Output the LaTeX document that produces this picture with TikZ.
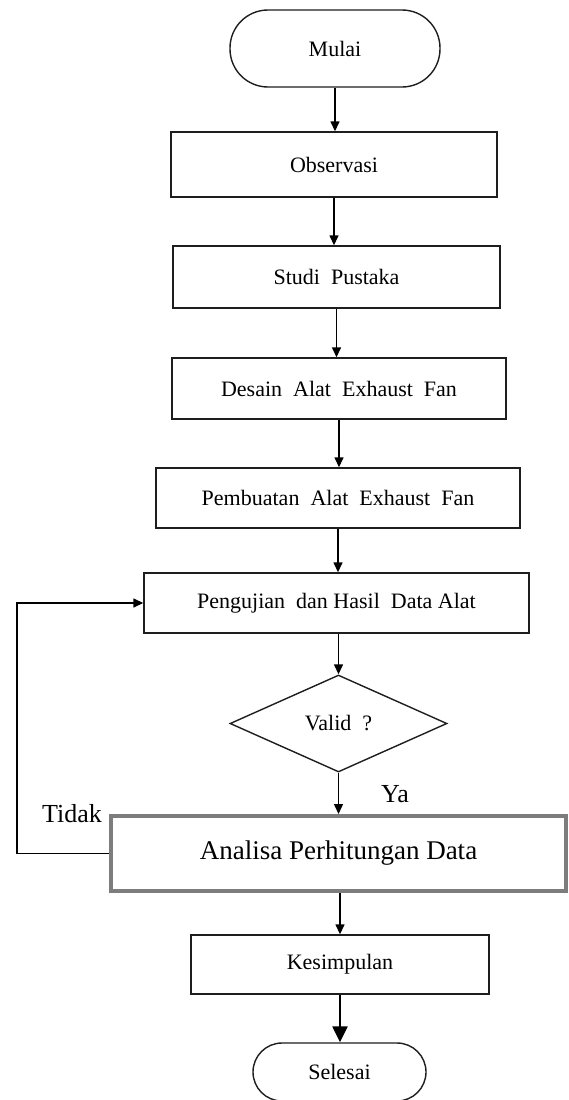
\documentclass[tikz,border=0pt]{standalone}
\usepackage{fontspec}
\setmainfont{Liberation Serif}
\usetikzlibrary{arrows.meta,shapes.geometric}
\definecolor{anagray}{RGB}{125,125,125}
\definecolor{linecol}{RGB}{30,30,30}
\tikzset{
  base/.style={draw=linecol,line width=1.4pt,align=center,inner sep=0pt,
    font=\fontsize{22}{26}\selectfont},
  proc/.style={base,rectangle},
  term/.style={base,rectangle,rounded corners=#1},
  decis/.style={base,diamond,aspect=2.24},
  anabox/.style={draw=anagray,line width=4pt,rectangle,inner sep=0pt,
    font=\fontsize{27}{31}\selectfont},
  arr/.style={draw=black,line width=1.4pt,-{Triangle[length=10pt,width=9pt]}},
  bigarr/.style={draw=black,line width=2.4pt,-{Triangle[length=16pt,width=15pt]}},
  lbl/.style={inner sep=0pt,font=\fontsize{26}{30}\selectfont}
}
\begin{document}
\begin{tikzpicture}[x=1pt,y=-1pt]
\fill[white] (0,0) rectangle (568,1100);
\useasboundingbox (0,0) rectangle (568,1100);

\node[term=38pt,minimum width=210pt,minimum height=77pt] (mulai) at (335,48.5) {Mulai};
\node[proc,minimum width=326pt,minimum height=65pt] (obs) at (334,164.5) {Observasi};
\node[proc,minimum width=327pt,minimum height=62pt] (studi) at (336.5,277) {Studi~ Pustaka};
\node[proc,minimum width=334pt,minimum height=61pt] (desain) at (339,388.5) {Desain~ Alat~ Exhaust~ Fan};
\node[proc,minimum width=364pt,minimum height=60pt] (pemb) at (338,498) {Pembuatan~ Alat~ Exhaust~ Fan};
\node[proc,minimum width=385pt,minimum height=60pt] (peng) at (336.5,603) {Pengujian~ dan Hasil~ Data Alat};
\node[decis,minimum width=217pt,minimum height=97pt] (valid) at (338.5,723.5) {Valid~ ?};
\node[anabox,minimum width=455pt,minimum height=75pt] (ana) at (338.5,853.5) {Analisa Perhitungan Data};
\node[proc,minimum width=298pt,minimum height=59pt] (kes) at (340,964.5) {Kesimpulan};
\node[term=29pt,minimum width=173pt,minimum height=58pt] (sel) at (339.5,1072) {Selesai};

\node[lbl,anchor=base west] (tidak) at (42,822) {Tidak};
\node[lbl,anchor=base west] (ya) at (381,802) {Ya};

\coordinate (lx) at (17,0);

\draw[arr] (mulai.south) -- (mulai.south |- obs.north);
\draw[arr] (obs.south) -- (obs.south |- studi.north);
\draw[arr] (studi.south) -- (studi.south |- desain.north);
\draw[arr] (desain.south) -- (desain.south |- pemb.north);
\draw[arr] (pemb.south) -- (pemb.south |- peng.north);
\draw[arr] (peng.south -| valid.north) -- (valid.north);
\draw[arr] (valid.south) -- (valid.south |- ana.north);
\draw[arr] (ana.south -| kes.north) -- (kes.north);
\draw[bigarr] (kes.south) -- (kes.south |- sel.north);
\draw[arr] (ana.west) -- (ana.west -| lx) |- (peng.west);
\end{tikzpicture}
\end{document}
